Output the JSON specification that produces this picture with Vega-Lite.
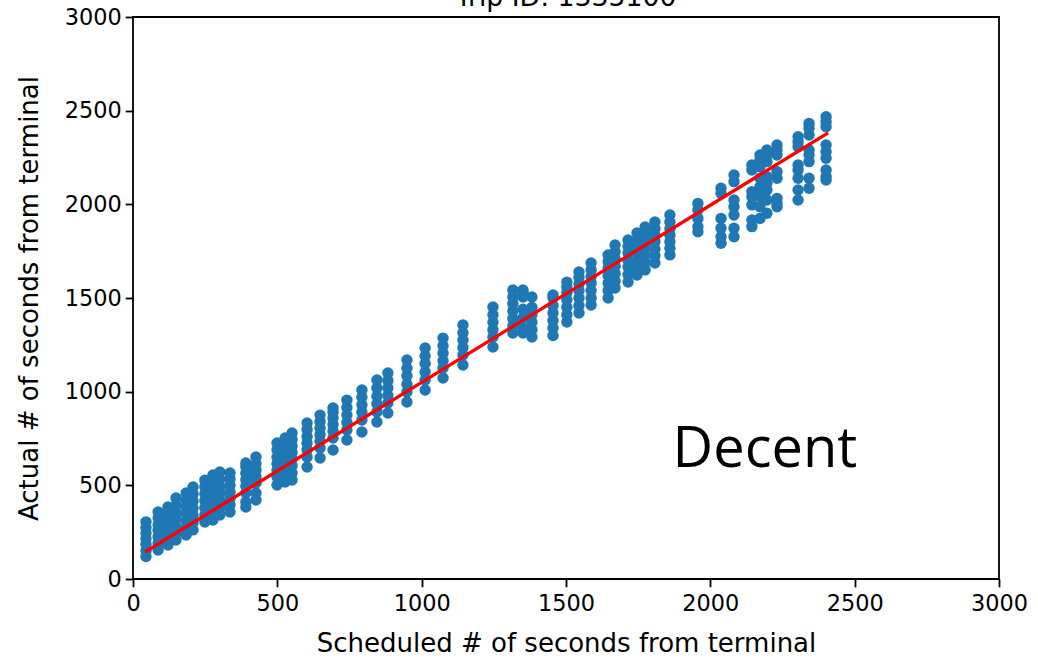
{
  "$schema": "https://vega.github.io/schema/vega-lite/v6.json",
  "autosize": {"type": "none"},
  "width": 866,
  "height": 562,
  "padding": {"left": 133, "top": 17, "right": 39, "bottom": 79},
  "background": "white",
  "title": {"text": "Trip ID: 1335100", "font": "DejaVu Sans", "fontSize": 26.7, "fontWeight": "normal", "color": "black", "baseline": "alphabetic", "offset": 3, "dy": 30, "frame": "group", "anchor": "middle"},
  "config": {
    "view": {"stroke": "black", "strokeWidth": 1.8},
    "axis": {"domain": false, "grid": false, "tickColor": "black", "tickWidth": 1.8, "tickSize": 7.8, "labelFont": "DejaVu Sans", "labelFontSize": 22.4, "labelColor": "black", "titleFont": "DejaVu Sans", "titleFontSize": 26, "titleFontWeight": "normal", "titleColor": "black", "format": "d"}
  },
  "datasets": {
    "pts": [
      {"x":45,"y":120},{"x":45,"y":150},{"x":45,"y":185},{"x":45,"y":215},{"x":45,"y":245},{"x":45,"y":275},{"x":45,"y":305},
      {"x":87,"y":155},{"x":87,"y":190},{"x":87,"y":225},{"x":87,"y":260},{"x":87,"y":290},{"x":87,"y":325},{"x":87,"y":358},
      {"x":121,"y":181},{"x":121,"y":215},{"x":121,"y":250},{"x":121,"y":285},{"x":121,"y":320},{"x":121,"y":350},{"x":121,"y":384},
      {"x":149,"y":208},{"x":149,"y":245},{"x":149,"y":280},{"x":149,"y":320},{"x":149,"y":355},{"x":149,"y":395},{"x":149,"y":432},
      {"x":184,"y":235},{"x":184,"y":272},{"x":184,"y":310},{"x":184,"y":348},{"x":184,"y":385},{"x":184,"y":422},{"x":184,"y":459},
      {"x":208,"y":262},{"x":208,"y":300},{"x":208,"y":340},{"x":208,"y":378},{"x":208,"y":415},{"x":208,"y":453},{"x":208,"y":491},
      {"x":249,"y":304},{"x":249,"y":342},{"x":249,"y":380},{"x":249,"y":418},{"x":249,"y":455},{"x":249,"y":492},{"x":249,"y":528},
      {"x":277,"y":315},{"x":277,"y":355},{"x":277,"y":395},{"x":277,"y":435},{"x":277,"y":475},{"x":277,"y":515},{"x":277,"y":555},
      {"x":301,"y":342},{"x":301,"y":380},{"x":301,"y":418},{"x":301,"y":456},{"x":301,"y":494},{"x":301,"y":532},{"x":301,"y":571},
      {"x":336,"y":358},{"x":336,"y":395},{"x":336,"y":430},{"x":336,"y":465},{"x":336,"y":500},{"x":336,"y":535},{"x":336,"y":566},
      {"x":391,"y":384},{"x":391,"y":411},{"x":391,"y":459},{"x":391,"y":495},{"x":391,"y":530},{"x":391,"y":565},{"x":391,"y":600},{"x":391,"y":619},
      {"x":426,"y":422},{"x":426,"y":459},{"x":426,"y":512},{"x":426,"y":545},{"x":426,"y":580},{"x":426,"y":615},{"x":426,"y":651},
      {"x":499,"y":502},{"x":499,"y":545},{"x":499,"y":580},{"x":499,"y":615},{"x":499,"y":650},{"x":499,"y":690},{"x":499,"y":726},
      {"x":527,"y":518},{"x":527,"y":545},{"x":527,"y":582},{"x":527,"y":620},{"x":527,"y":655},{"x":527,"y":690},{"x":527,"y":725},{"x":527,"y":753},
      {"x":551,"y":528},{"x":551,"y":566},{"x":551,"y":605},{"x":551,"y":640},{"x":551,"y":675},{"x":551,"y":710},{"x":551,"y":745},{"x":551,"y":779},
      {"x":603,"y":598},{"x":603,"y":651},{"x":603,"y":690},{"x":603,"y":725},{"x":603,"y":760},{"x":603,"y":798},{"x":603,"y":833},
      {"x":648,"y":646},{"x":648,"y":699},{"x":648,"y":735},{"x":648,"y":770},{"x":648,"y":805},{"x":648,"y":840},{"x":648,"y":875},
      {"x":693,"y":689},{"x":693,"y":753},{"x":693,"y":790},{"x":693,"y":825},{"x":693,"y":860},{"x":693,"y":890},{"x":693,"y":913},
      {"x":741,"y":742},{"x":741,"y":795},{"x":741,"y":835},{"x":741,"y":875},{"x":741,"y":915},{"x":741,"y":955},
      {"x":793,"y":785},{"x":793,"y":849},{"x":793,"y":890},{"x":793,"y":930},{"x":793,"y":970},{"x":793,"y":1009},
      {"x":845,"y":838},{"x":845,"y":892},{"x":845,"y":935},{"x":845,"y":975},{"x":845,"y":1020},{"x":845,"y":1062},
      {"x":883,"y":886},{"x":883,"y":940},{"x":883,"y":980},{"x":883,"y":1020},{"x":883,"y":1060},{"x":883,"y":1100},
      {"x":949,"y":945},{"x":949,"y":998},{"x":949,"y":1040},{"x":949,"y":1085},{"x":949,"y":1125},{"x":949,"y":1169},
      {"x":1012,"y":1009},{"x":1012,"y":1062},{"x":1012,"y":1105},{"x":1012,"y":1150},{"x":1012,"y":1190},{"x":1012,"y":1233},
      {"x":1074,"y":1073},{"x":1074,"y":1126},{"x":1074,"y":1165},{"x":1074,"y":1205},{"x":1074,"y":1245},{"x":1074,"y":1286},
      {"x":1143,"y":1142},{"x":1143,"y":1196},{"x":1143,"y":1235},{"x":1143,"y":1275},{"x":1143,"y":1315},{"x":1143,"y":1356},
      {"x":1247,"y":1238},{"x":1247,"y":1292},{"x":1247,"y":1330},{"x":1247,"y":1370},{"x":1247,"y":1410},{"x":1247,"y":1452},
      {"x":1316,"y":1313},{"x":1316,"y":1350},{"x":1316,"y":1390},{"x":1316,"y":1430},{"x":1316,"y":1470},{"x":1316,"y":1505},{"x":1316,"y":1543},
      {"x":1351,"y":1313},{"x":1351,"y":1340},{"x":1351,"y":1395},{"x":1351,"y":1440},{"x":1351,"y":1505},{"x":1351,"y":1530},{"x":1351,"y":1543},
      {"x":1382,"y":1292},{"x":1382,"y":1330},{"x":1382,"y":1370},{"x":1382,"y":1410},{"x":1382,"y":1450},{"x":1382,"y":1505},
      {"x":1455,"y":1300},{"x":1455,"y":1340},{"x":1455,"y":1380},{"x":1455,"y":1420},{"x":1455,"y":1460},{"x":1455,"y":1500},{"x":1455,"y":1516},
      {"x":1503,"y":1372},{"x":1503,"y":1410},{"x":1503,"y":1450},{"x":1503,"y":1490},{"x":1503,"y":1530},{"x":1503,"y":1560},{"x":1503,"y":1585},
      {"x":1545,"y":1420},{"x":1545,"y":1460},{"x":1545,"y":1500},{"x":1545,"y":1540},{"x":1545,"y":1575},{"x":1545,"y":1610},{"x":1545,"y":1639},
      {"x":1587,"y":1463},{"x":1587,"y":1500},{"x":1587,"y":1540},{"x":1587,"y":1580},{"x":1587,"y":1615},{"x":1587,"y":1650},{"x":1587,"y":1687},
      {"x":1646,"y":1500},{"x":1646,"y":1540},{"x":1646,"y":1580},{"x":1646,"y":1620},{"x":1646,"y":1660},{"x":1646,"y":1695},{"x":1646,"y":1730},
      {"x":1670,"y":1553},{"x":1670,"y":1590},{"x":1670,"y":1630},{"x":1670,"y":1670},{"x":1670,"y":1710},{"x":1670,"y":1745},{"x":1670,"y":1783},
      {"x":1715,"y":1585},{"x":1715,"y":1625},{"x":1715,"y":1665},{"x":1715,"y":1700},{"x":1715,"y":1740},{"x":1715,"y":1775},{"x":1715,"y":1810},
      {"x":1746,"y":1623},{"x":1746,"y":1660},{"x":1746,"y":1700},{"x":1746,"y":1740},{"x":1746,"y":1775},{"x":1746,"y":1810},{"x":1746,"y":1847},
      {"x":1774,"y":1650},{"x":1774,"y":1690},{"x":1774,"y":1730},{"x":1774,"y":1770},{"x":1774,"y":1805},{"x":1774,"y":1840},{"x":1774,"y":1879},
      {"x":1808,"y":1687},{"x":1808,"y":1725},{"x":1808,"y":1760},{"x":1808,"y":1800},{"x":1808,"y":1835},{"x":1808,"y":1870},{"x":1808,"y":1906},
      {"x":1860,"y":1730},{"x":1860,"y":1765},{"x":1860,"y":1800},{"x":1860,"y":1835},{"x":1860,"y":1870},{"x":1860,"y":1905},{"x":1860,"y":1943},
      {"x":1957,"y":1854},{"x":1957,"y":1880},{"x":1957,"y":1925},{"x":1957,"y":1970},{"x":1957,"y":2005},
      {"x":2037,"y":1792},{"x":2037,"y":1827},{"x":2037,"y":1872},{"x":2037,"y":1925},{"x":2037,"y":2059},{"x":2037,"y":2086},
      {"x":2082,"y":1827},{"x":2082,"y":1872},{"x":2082,"y":1943},{"x":2082,"y":1987},{"x":2082,"y":2023},{"x":2082,"y":2121},{"x":2082,"y":2157},
      {"x":2144,"y":1881},{"x":2144,"y":1916},{"x":2144,"y":1997},{"x":2144,"y":2041},{"x":2144,"y":2068},{"x":2144,"y":2183},{"x":2144,"y":2210},
      {"x":2172,"y":1925},{"x":2172,"y":1987},{"x":2172,"y":2041},{"x":2172,"y":2094},{"x":2172,"y":2139},{"x":2172,"y":2201},{"x":2172,"y":2237},{"x":2172,"y":2263},
      {"x":2196,"y":1952},{"x":2196,"y":2023},{"x":2196,"y":2077},{"x":2196,"y":2112},{"x":2196,"y":2148},{"x":2196,"y":2228},{"x":2196,"y":2263},{"x":2196,"y":2290},
      {"x":2231,"y":1987},{"x":2231,"y":2005},{"x":2231,"y":2032},{"x":2231,"y":2139},{"x":2231,"y":2174},{"x":2231,"y":2263},{"x":2231,"y":2290},{"x":2231,"y":2317},
      {"x":2304,"y":2023},{"x":2304,"y":2077},{"x":2304,"y":2139},{"x":2304,"y":2183},{"x":2304,"y":2210},{"x":2304,"y":2308},{"x":2304,"y":2334},{"x":2304,"y":2361},
      {"x":2342,"y":2086},{"x":2342,"y":2139},{"x":2342,"y":2228},{"x":2342,"y":2263},{"x":2342,"y":2290},{"x":2342,"y":2370},{"x":2342,"y":2406},{"x":2342,"y":2432},
      {"x":2401,"y":2130},{"x":2401,"y":2148},{"x":2401,"y":2183},{"x":2401,"y":2246},{"x":2401,"y":2281},{"x":2401,"y":2317},{"x":2401,"y":2414},{"x":2401,"y":2441},{"x":2401,"y":2468}
    ],
    "fit": [{"x": 42, "y": 144}, {"x": 2408, "y": 2381}]
  },
  "layer": [
    {
      "data": {"name": "pts"},
      "mark": {"type": "circle", "size": 130, "opacity": 1, "color": "#1f77b4"},
      "encoding": {
        "x": {"field": "x", "type": "quantitative", "scale": {"domain": [0, 3000], "nice": false}, "axis": {"values": [0, 500, 1000, 1500, 2000, 2500, 3000], "title": "Scheduled # of seconds from terminal", "labelPadding": 6, "titlePadding": 15, "labelFlush": false}},
        "y": {"field": "y", "type": "quantitative", "scale": {"domain": [0, 3000], "nice": false}, "axis": {"values": [0, 500, 1000, 1500, 2000, 2500, 3000], "title": "Actual # of seconds from terminal", "labelPadding": 4, "titlePadding": 22, "labelFlush": false}}
      }
    },
    {
      "data": {"name": "fit"},
      "mark": {"type": "line", "color": "red", "strokeWidth": 3.3},
      "encoding": {
        "x": {"field": "x", "type": "quantitative"},
        "y": {"field": "y", "type": "quantitative"}
      }
    },
    {
      "data": {"values": [{"label": "Decent"}]},
      "mark": {"type": "text", "font": "Open Sans", "fontSize": 56, "align": "center", "baseline": "alphabetic", "color": "black"},
      "encoding": {
        "x": {"datum": 2189, "type": "quantitative"},
        "y": {"datum": 598, "type": "quantitative"},
        "text": {"field": "label"}
      }
    }
  ]
}
